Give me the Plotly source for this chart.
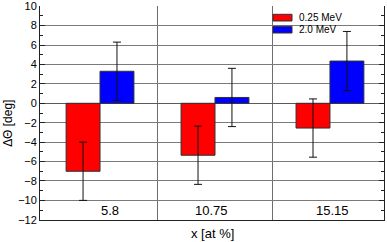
import plotly.graph_objects as go

categories = ["5.8", "10.75", "15.15"]
series_names = ["0.25 MeV", "2.0 MeV"]
red_values = [-7.0, -5.35, -2.55]
red_errors = [3.0, 3.0, 3.0]
blue_values = [3.3, 0.6, 4.35]
blue_errors = [3.0, 3.0, 3.05]
y_ticks = list(range(-12, 11, 2))

FONT = "Liberation Sans, Arial, sans-serif"
xpos = list(range(len(categories)))
label_shift = [10, -3, 3]

fig = go.Figure()
for name, vals, errs, col in [
    (series_names[0], red_values, red_errors, "#ff0000"),
    (series_names[1], blue_values, blue_errors, "#0000ff"),
]:
    fig.add_trace(go.Bar(
        x=xpos, y=vals, name=name,
        marker=dict(color=col, line=dict(color="#303030", width=1)),
        error_y=dict(type="data", array=errs, visible=True, color="#111111",
                     thickness=1, width=4),
        showlegend=False, hoverinfo="skip",
    ))

fig.update_layout(
    width=387, height=242,
    margin=dict(l=40, r=3, t=6, b=22, autoexpand=False),
    paper_bgcolor="white", plot_bgcolor="white",
    barmode="group", bargap=0.41, bargroupgap=0,
    font=dict(family=FONT, size=11, color="black"),
)

fig.update_xaxes(
    range=[-0.522, 2.47], automargin=False,
    tickvals=xpos, ticktext=["", "", ""], ticks="",
    showgrid=False, zeroline=False,
    showline=True, linecolor="#222222", linewidth=1, mirror=False,
    minor=dict(tickmode="array", tickvals=[0.5, 1.5], showgrid=True,
               gridcolor="#6e6e6e", gridwidth=1, ticks=""),
)
fig.update_yaxes(
    range=[-12.02, 10.02], tickvals=y_ticks, automargin=False,
    ticks="inside", ticklen=5, tickcolor="#222222", tickwidth=1,
    showgrid=True, gridcolor="#7a7a7a", gridwidth=1,
    zeroline=True, zerolinecolor="#5a5a5a", zerolinewidth=1,
    showline=True, linecolor="#222222", linewidth=1, mirror="ticks",
    minor=dict(dtick=1, ticks="inside", ticklen=3, tickcolor="#222222", showgrid=False),
    tickfont=dict(size=11),
)

fig.add_annotation(xref="paper", yref="paper", x=0.5, y=0, yshift=-13,
                   text="x [at %]", showarrow=False, yanchor="middle",
                   font=dict(size=13, family=FONT))
fig.add_annotation(xref="paper", yref="paper", x=0, xshift=-32, y=0.45,
                   text="ΔΘ [deg]", showarrow=False, textangle=-90,
                   xanchor="center", yanchor="middle",
                   font=dict(size=12, family=FONT))

for i, lab in enumerate(categories):
    fig.add_annotation(x=xpos[i], y=-11, xref="x", yref="y", text=lab,
                       xshift=label_shift[i],
                       showarrow=False, font=dict(size=13, family=FONT))

# legend drawn manually
leg_x0, leg_x1 = (273 - 40) / 344, (292 - 40) / 344
for j, (name, col) in enumerate(zip(series_names, ["#ff0000", "#0000ff"])):
    ytop = 1 - (14.3 - 6 + j * 12) / 214
    ybot = 1 - (21 - 6 + j * 12) / 214
    fig.add_shape(type="rect", xref="paper", yref="paper",
                  x0=leg_x0, x1=leg_x1, y0=ybot, y1=ytop,
                  fillcolor=col, line=dict(color="#303030", width=1))
    fig.add_annotation(xref="paper", yref="paper", x=(297 - 40) / 344,
                       y=(ytop + ybot) / 2, text=name, showarrow=False,
                       xanchor="left", yanchor="middle",
                       font=dict(size=10, family=FONT))

fig.write_html("out.html", config={"displayModeBar": False},
               post_script="document.body.style.margin='0px';")
